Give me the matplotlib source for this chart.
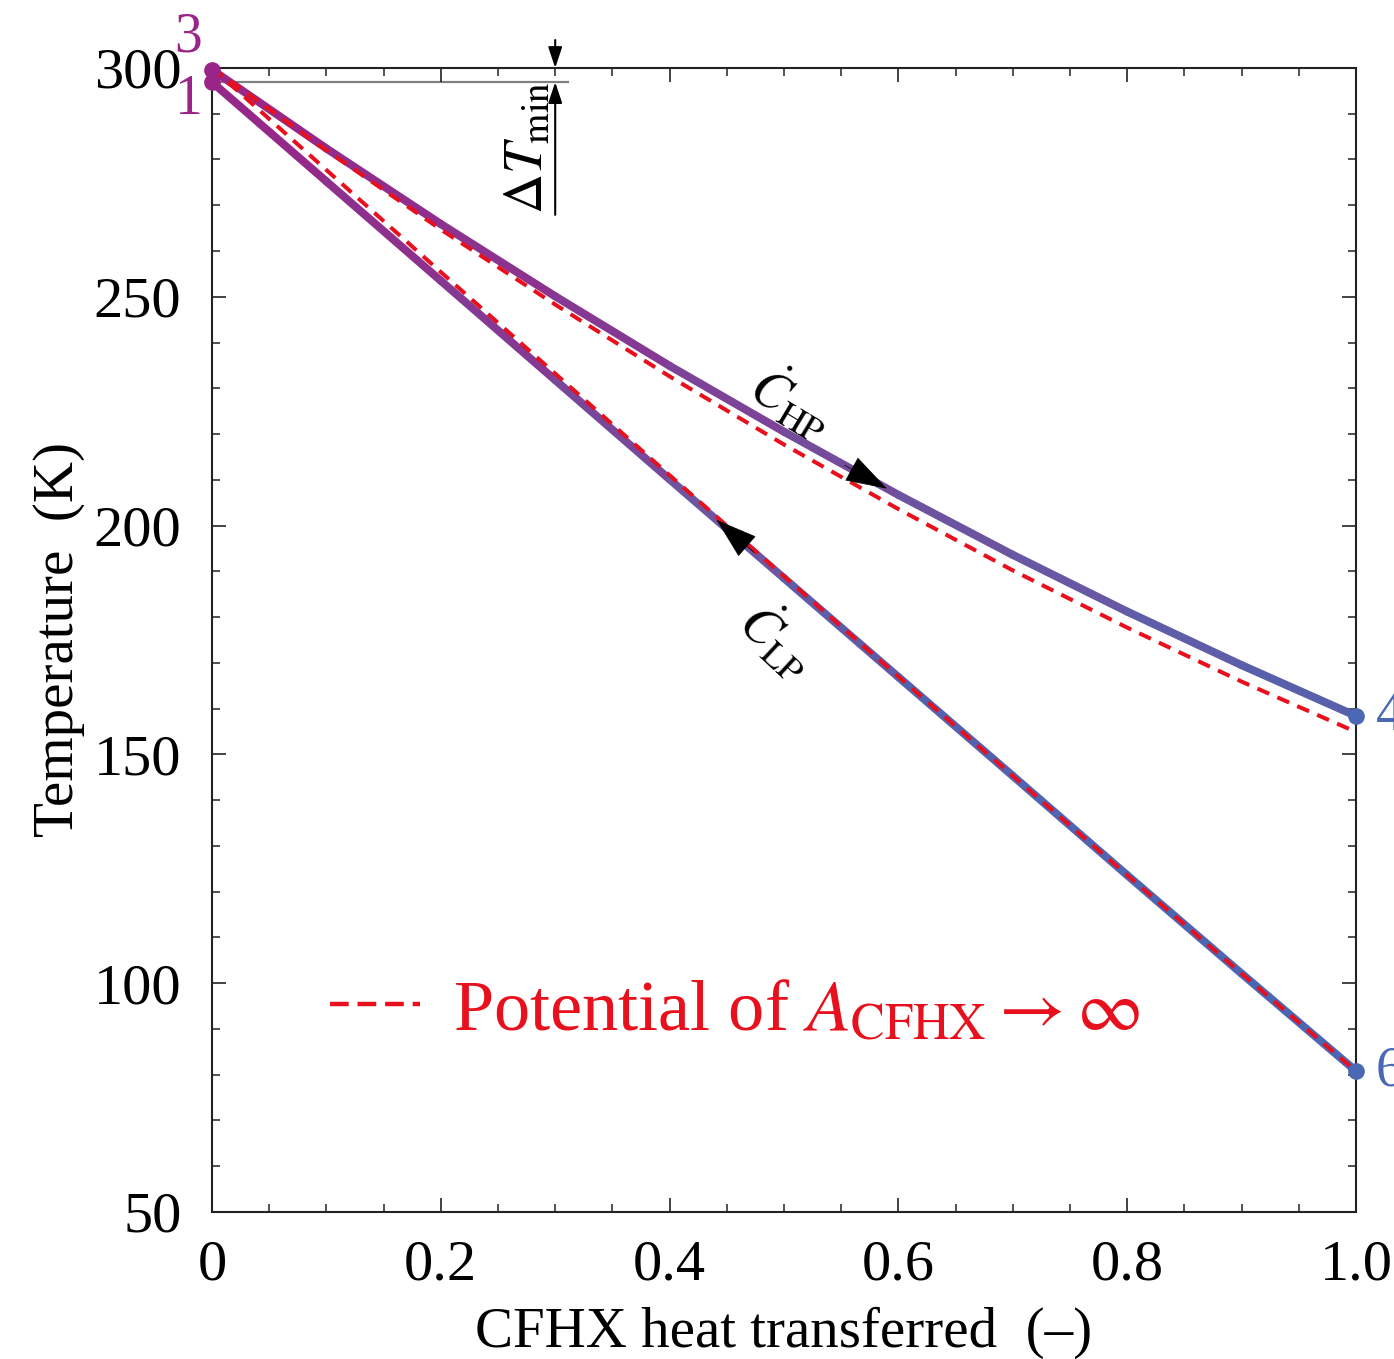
import numpy as np
import matplotlib
matplotlib.use('Agg')
import matplotlib.pyplot as plt
from matplotlib.collections import LineCollection
from matplotlib.colors import LinearSegmentedColormap
from matplotlib.lines import Line2D
from matplotlib.ticker import MultipleLocator

plt.rcParams['font.family'] = 'serif'
plt.rcParams['font.serif'] = ['Liberation Serif', 'DejaVu Serif']
plt.rcParams['mathtext.fontset'] = 'stix'

# heat transferred (normalised) and stream temperatures
q = np.array([0.0, 0.1, 0.2, 0.3, 0.4, 0.5, 0.6, 0.7, 0.8, 0.9, 1.0])
t_hp = np.array([299.6, 282.4, 265.9, 250.1, 234.9, 220.5, 206.7, 193.6, 181.2, 169.5, 158.4])
t_lp = np.array([296.9, 275.2, 253.5, 231.8, 210.1, 188.5, 166.9, 145.3, 123.6, 102.1, 80.8])
# potential profiles for infinite CFHX area
t_hp_pot = np.array([300.0, 282.0, 264.7, 248.3, 232.6, 217.7, 203.6, 190.2, 177.7, 165.9, 154.9])
t_lp_pot = np.array([300.0, 277.7, 255.4, 233.2, 211.0, 188.9, 167.0, 145.3, 123.6, 102.1, 80.8])

x_ticks = [0, 0.2, 0.4, 0.6, 0.8, 1.0]
x_ticklabels = ['0', '0.2', '0.4', '0.6', '0.8', '1.0']
y_ticks = [50, 100, 150, 200, 250, 300]

red = '#e8101c'
purple = '#9a2488'
blue = '#4a68b4'

# stream colour follows temperature: magenta when warm, blue when cold
cmap = LinearSegmentedColormap.from_list(
    'stream', [(0.0, blue), (0.32, '#5064b0'), (0.55, '#6e54a0'), (0.78, '#8a3490'), (1.0, purple)])
norm = plt.Normalize(80, 300)

fig = plt.figure(figsize=(13.94, 13.59), dpi=100)
ax = fig.add_axes([0.1521, 0.1082, 0.8206, 0.8418])


def gradient_line(x, t):
    pts = np.column_stack([x, t]).reshape(-1, 1, 2)
    segs = np.concatenate([pts[:-1], pts[1:]], axis=1)
    cols = cmap(norm((t[:-1] + t[1:]) / 2))
    lc = LineCollection(segs, colors=cols, linewidths=5.8, capstyle='round',
                        joinstyle='round', clip_on=False, zorder=2)
    ax.add_collection(lc)


def flow_arrow(x0, x1, t):
    tail = (x0, np.interp(x0, q, t))
    tip = (x1, np.interp(x1, q, t))
    ax.annotate('', xy=tip, xytext=tail, zorder=5,
                arrowprops=dict(arrowstyle='-|>,head_length=1.4,head_width=0.45',
                                mutation_scale=20, color='black', lw=0.5,
                                shrinkA=0, shrinkB=0))


gradient_line(q, t_hp)
gradient_line(q, t_lp)

dash = (0, (3.2, 2.2))
ax.plot(q, t_hp_pot, color=red, lw=2.9, ls=dash, zorder=3)
ax.plot(q, t_lp_pot, color=red, lw=2.9, ls=dash, zorder=3)

# end points
ax.plot([0, 0], [t_hp[0], t_lp[0]], 'o', color=purple, ms=11, clip_on=False, zorder=4)
ax.plot([1, 1], [t_hp[-1], t_lp[-1]], 'o', color=blue, ms=11, clip_on=False, zorder=4)

lab = dict(textcoords='offset points', fontsize=40, ha='center', va='center',
           annotation_clip=False)
ax.annotate('3', xy=(0, t_hp[0]), xytext=(-17, 23), color=purple, **lab)
ax.annotate('1', xy=(0, t_lp[0]), xytext=(-17, -13), color=purple, **lab)
ax.annotate('4', xy=(1, t_hp[-1]), xytext=(24, 0), color=blue, **lab)
ax.annotate('6', xy=(1, t_lp[-1]), xytext=(24, 0), color=blue, **lab)

# flow direction arrows
flow_arrow(0.553, 0.590, t_hp)
flow_arrow(0.474, 0.441, t_lp)

ax.text(0.507, 227, r'$\dot{C}_{\mathrm{HP}}$', fontsize=38, rotation=-31,
        ha='center', va='center', rotation_mode='anchor')
ax.text(0.494, 175, r'$\dot{C}_{\mathrm{LP}}$', fontsize=38, rotation=-43,
        ha='center', va='center', rotation_mode='anchor')

# minimum temperature difference marker
dt_x = 0.3
ax.plot([0, 0.311], [t_lp[0], t_lp[0]], color='#808080', lw=1.6, clip_on=False, zorder=1)
small = dict(arrowstyle='-|>,head_length=0.9,head_width=0.3', mutation_scale=14,
             color='black', lw=1.5, shrinkA=0, shrinkB=0)
ax.annotate('', xy=(dt_x, t_hp_pot[0]), xytext=(dt_x, 306.1), arrowprops=small,
            annotation_clip=False)
ax.annotate('', xy=(dt_x, t_lp[0]), xytext=(dt_x, 267.9), arrowprops=small,
            annotation_clip=False)
ax.text(0.277, 282.5, r'$\Delta T_{\mathrm{min}}$', fontsize=40, rotation=90,
        ha='center', va='center')

handle = Line2D([], [], color=red, lw=3.2, ls=(0, (4.2, 2.0)))
ax.legend([handle], [r'Potential of $A_{\mathrm{CFHX}} \rightarrow \infty$'],
          loc='center left', bbox_to_anchor=(0.103, 0.175), frameon=False,
          fontsize=52, handlelength=1.25, handletextpad=0.45, borderpad=0,
          borderaxespad=0, labelcolor=red)

ax.set_xlim(0, 1)
ax.set_ylim(50, 300)
ax.set_xticks(x_ticks)
ax.set_xticklabels(x_ticklabels)
ax.set_yticks(y_ticks)
ax.xaxis.set_minor_locator(MultipleLocator(0.05))
ax.yaxis.set_minor_locator(MultipleLocator(10))
ax.tick_params(which='both', direction='in', top=True, right=True, color='#222222')
ax.tick_params(which='major', length=10, width=1.2, labelsize=42)
ax.tick_params(which='minor', length=6, width=1.1)
ax.tick_params(axis='x', pad=20)
ax.tick_params(axis='y', pad=22)
for s in ax.spines.values():
    s.set_linewidth(1.5)
    s.set_color('#222222')

ax.set_xlabel('CFHX heat transferred  (\u2013)', fontsize=41)
ax.set_ylabel('Temperature  (K)', fontsize=41)
ax.xaxis.set_label_coords(0.5, -0.083)
ax.yaxis.set_label_coords(-0.111, 0.5)

fig.savefig('out.png', dpi=100)
